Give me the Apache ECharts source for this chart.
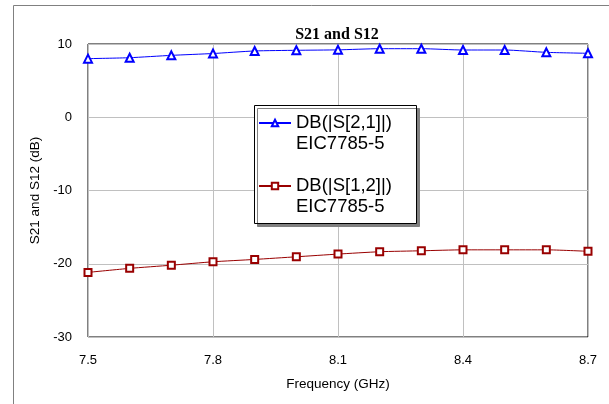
<!DOCTYPE html>
<html>
<head>
<meta charset="utf-8">
<script src="https://cdn.jsdelivr.net/npm/echarts@6/dist/echarts.min.js"></script>
<style>html,body{margin:0;padding:0;background:#fff;}#c{width:609px;height:404px;}</style>
</head>
<body>
<div id="c"></div>
<script>
var freq = [7.5, 7.6, 7.7, 7.8, 7.9, 8.0, 8.1, 8.2, 8.3, 8.4, 8.5, 8.6, 8.7];
var s21 = [8.0, 8.13, 8.45, 8.7, 9.05, 9.14, 9.2, 9.36, 9.36, 9.18, 9.18, 8.86, 8.73];
var s12 = [-21.18, -20.63, -20.2, -19.73, -19.41, -19.05, -18.68, -18.36, -18.23, -18.1, -18.1, -18.1, -18.3];
var s21Name = 'DB(|S[2,1]|)';
var s12Name = 'DB(|S[1,2]|)';
var deviceName = 'EIC7785-5';

function pairs(xs, ys) { return xs.map(function (x, i) { return [x, ys[i]]; }); }

var chart = echarts.init(document.getElementById('c'));
chart.setOption({
  animation: false,
  backgroundColor: '#fff',
  title: {
    text: 'S21 and S12',
    left: 332, top: 22, textAlign: 'center',
    textStyle: { fontFamily: 'Liberation Serif', fontWeight: 'bold', fontSize: 16, color: '#000' }
  },
  graphic: [
    { type: 'rect', left: 11, top: 3, shape: { width: 700, height: 500 }, style: { fill: 'none', stroke: '#808080', lineWidth: 1 }, z: -1 },
    { type: 'rect', left: 254, top: 105, shape: { width: 162, height: 118 }, style: { fill: '#fff', stroke: '#000', lineWidth: 1, shadowColor: '#808080', shadowOffsetX: 3, shadowOffsetY: 3, shadowBlur: 0 }, z: 5 }
  ],
  legend: {
    orient: 'vertical', left: 258, top: 91.5, padding: 0, itemGap: 0,
    itemWidth: 32, itemHeight: 8, selectedMode: false, z: 6,
    formatter: function (n) { return '\u00a0\n' + n + '\n' + deviceName; },
    textStyle: { fontFamily: 'Liberation Sans', fontSize: 18.5, lineHeight: 21, color: '#000' },
    data: [s21Name, s12Name]
  },
  grid: { left: 88, right: 21, top: 44, bottom: 67, show: true, borderColor: '#000', borderWidth: 1, backgroundColor: 'transparent' },
  xAxis: {
    type: 'value', min: 7.5, max: 8.7, interval: 0.3,
    name: 'Frequency (GHz)', nameLocation: 'middle', nameGap: 40,
    nameTextStyle: { fontFamily: 'Liberation Sans', fontSize: 13.5, color: '#000' },
    axisLine: { show: false }, axisTick: { show: false },
    axisLabel: { margin: 17, fontFamily: 'Liberation Sans', fontSize: 13, color: '#000', formatter: function (v) { return v.toFixed(1); } },
    splitLine: { show: true, lineStyle: { color: '#c0c0c0', width: 1 } }
  },
  yAxis: {
    type: 'value', min: -30, max: 10, interval: 10,
    name: 'S21 and S12 (dB)', nameLocation: 'middle', nameGap: 46,
    nameTextStyle: { fontFamily: 'Liberation Sans', fontSize: 13.5, color: '#000' },
    axisLine: { show: false }, axisTick: { show: false },
    axisLabel: { margin: 16, fontFamily: 'Liberation Sans', fontSize: 13, color: '#000' },
    splitLine: { show: true, lineStyle: { color: '#c0c0c0', width: 1 } }
  },
  series: [
    { name: s21Name, type: 'line', data: pairs(freq, s21), smooth: 0.2, symbol: 'emptyTriangle', symbolSize: 8,
      color: '#0000ff', lineStyle: { width: 1, color: '#0000ff' }, itemStyle: { color: '#0000ff', borderWidth: 1 } },
    { name: s12Name, type: 'line', data: pairs(freq, s12), smooth: 0.2, symbol: 'emptyRect', symbolSize: 7,
      color: '#990000', lineStyle: { width: 1, color: '#990000' }, itemStyle: { color: '#990000', borderWidth: 1 } }
  ]
});
</script>
</body>
</html>
